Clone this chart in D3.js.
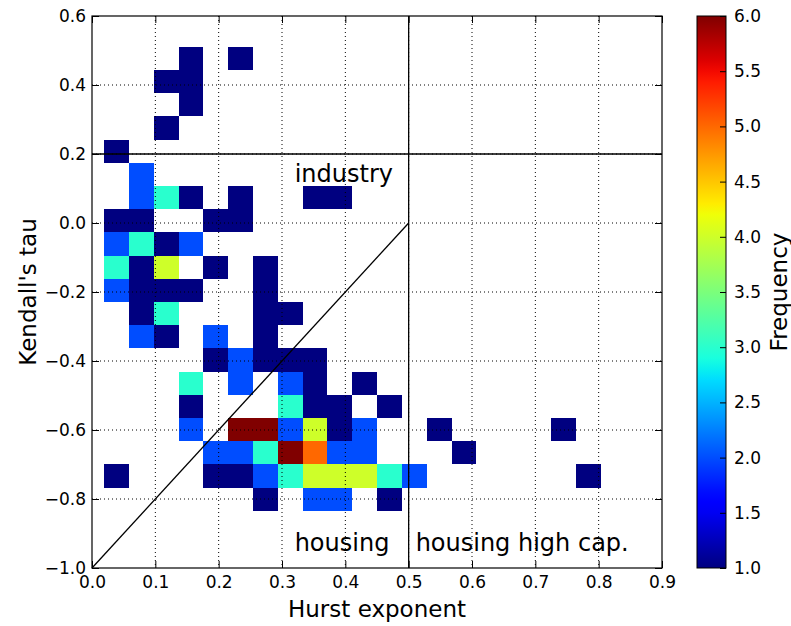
<!DOCTYPE html>
<html>
<head>
<meta charset="utf-8">
<script src="https://cdn.jsdelivr.net/npm/d3@7"></script>
<style>
body { margin: 0; background: #fff; }
text { font-family: "DejaVu Sans", sans-serif; fill: #000; }
</style>
</head>
<body>
<svg id="chart" width="791" height="626"></svg>
<script>
// bin range of the 2d histogram (20 x 20 bins)
var hurstRange = [0.019, 0.803];
var tauRange = [-0.834, 0.511];
var nBins = 20;

// counts per bin, first row = highest tau, first column = lowest hurst
var counts = [
    [0,0,0,1,0,1,0,0,0,0,0,0,0,0,0,0,0,0,0,0],
    [0,0,1,1,0,0,0,0,0,0,0,0,0,0,0,0,0,0,0,0],
    [0,0,0,1,0,0,0,0,0,0,0,0,0,0,0,0,0,0,0,0],
    [0,0,1,0,0,0,0,0,0,0,0,0,0,0,0,0,0,0,0,0],
    [1,0,0,0,0,0,0,0,0,0,0,0,0,0,0,0,0,0,0,0],
    [0,2,0,0,0,0,0,0,0,0,0,0,0,0,0,0,0,0,0,0],
    [0,2,3,1,0,1,0,0,1,1,0,0,0,0,0,0,0,0,0,0],
    [1,1,0,0,1,1,0,0,0,0,0,0,0,0,0,0,0,0,0,0],
    [2,3,1,2,0,0,0,0,0,0,0,0,0,0,0,0,0,0,0,0],
    [3,1,4,0,1,0,1,0,0,0,0,0,0,0,0,0,0,0,0,0],
    [2,1,1,1,0,0,1,0,0,0,0,0,0,0,0,0,0,0,0,0],
    [0,1,3,0,0,0,1,1,0,0,0,0,0,0,0,0,0,0,0,0],
    [0,2,1,0,2,0,1,0,0,0,0,0,0,0,0,0,0,0,0,0],
    [0,0,0,0,1,2,1,1,1,0,0,0,0,0,0,0,0,0,0,0],
    [0,0,0,3,0,2,0,2,1,0,1,0,0,0,0,0,0,0,0,0],
    [0,0,0,1,0,0,0,3,1,1,0,1,0,0,0,0,0,0,0,0],
    [0,0,0,2,0,6,6,2,4,1,2,0,0,1,0,0,0,0,1,0],
    [0,0,0,0,2,2,3,6,5,2,2,0,0,0,1,0,0,0,0,0],
    [1,0,0,0,1,1,2,3,4,4,4,3,2,0,0,0,0,0,0,1],
    [0,0,0,0,0,0,1,0,2,2,0,1,0,0,0,0,0,0,0,0]
];

var xTicks = [0, 0.1, 0.2, 0.3, 0.4, 0.5, 0.6, 0.7, 0.8, 0.9];
var yTicks = [-1.0, -0.8, -0.6, -0.4, -0.2, 0.0, 0.2, 0.4, 0.6];
var cbTicks = [1.0, 1.5, 2.0, 2.5, 3.0, 3.5, 4.0, 4.5, 5.0, 5.5, 6.0];

// separator lines [x1, y1, x2, y2] in data units
var guides = [
    [0, -1, 0.5, 0],
    [0, 0.2, 0.9, 0.2],
    [0.5, -1, 0.5, 0.6]
];
var regionLabels = [
    {text: "industry", x: 0.32, y: 0.12},
    {text: "housing", x: 0.32, y: -0.952},
    {text: "housing high cap.", x: 0.511, y: -0.952}
];

var margin = {left: 92, top: 16, right: 129, bottom: 58};
var width = 791 - margin.left - margin.right,
    height = 626 - margin.top - margin.bottom;

var svg = d3.select("#chart");
var g = svg.append("g")
    .attr("transform", "translate(" + margin.left + "," + margin.top + ")");

var x = d3.scaleLinear().domain([0, 0.9]).range([0, width]);
var y = d3.scaleLinear().domain([-1, 0.6]).range([height, 0]);

// matplotlib jet
var jetR = d3.scaleLinear().domain([0, 0.35, 0.66, 0.89, 1]).range([0, 0, 1, 1, 0.5]).clamp(true);
var jetG = d3.scaleLinear().domain([0, 0.125, 0.375, 0.64, 0.91, 1]).range([0, 0, 1, 1, 0, 0]).clamp(true);
var jetB = d3.scaleLinear().domain([0, 0.11, 0.34, 0.65, 1]).range([0.5, 1, 1, 0, 0]).clamp(true);
function jet(t) {
    return d3.rgb(jetR(t) * 255, jetG(t) * 255, jetB(t) * 255).toString();
}
var norm = d3.scaleLinear().domain([1, 6]).range([0, 1]).clamp(true);

var xEdge = d3.scaleLinear().domain([0, nBins]).range(hurstRange);
var yEdge = d3.scaleLinear().domain([0, nBins]).range([tauRange[1], tauRange[0]]);

var cells = [];
counts.forEach(function(row, r) {
    row.forEach(function(v, c) {
        if (v > 0) cells.push({r: r, c: c, v: v});
    });
});

g.selectAll(".cell")
    .data(cells)
    .enter()
    .append("rect")
    .attr("class", "cell")
    .attr("shape-rendering", "crispEdges")
    .attr("x", function(d) { return x(xEdge(d.c)); })
    .attr("width", function(d) { return x(xEdge(d.c + 1)) - x(xEdge(d.c)); })
    .attr("y", function(d) { return y(yEdge(d.r)); })
    .attr("height", function(d) { return y(yEdge(d.r + 1)) - y(yEdge(d.r)); })
    .attr("fill", function(d) { return jet(norm(d.v)); });

// dotted grid
g.selectAll(".gx")
    .data(xTicks.slice(1, -1))
    .enter()
    .append("line")
    .attr("x1", function(d) { return x(d); })
    .attr("x2", function(d) { return x(d); })
    .attr("y1", 0).attr("y2", height)
    .attr("stroke", "#000").attr("stroke-width", 1)
    .attr("stroke-dasharray", "1,3");

g.selectAll(".gy")
    .data(yTicks.slice(1, -1))
    .enter()
    .append("line")
    .attr("y1", function(d) { return y(d); })
    .attr("y2", function(d) { return y(d); })
    .attr("x1", 0).attr("x2", width)
    .attr("stroke", "#000").attr("stroke-width", 1)
    .attr("stroke-dasharray", "1,3");

g.selectAll(".guide")
    .data(guides)
    .enter()
    .append("line")
    .attr("x1", function(d) { return x(d[0]); })
    .attr("y1", function(d) { return y(d[1]); })
    .attr("x2", function(d) { return x(d[2]); })
    .attr("y2", function(d) { return y(d[3]); })
    .attr("stroke", "#000")
    .attr("stroke-width", 1.3);

g.selectAll(".region")
    .data(regionLabels)
    .enter()
    .append("text")
    .attr("x", function(d) { return x(d.x); })
    .attr("y", function(d) { return y(d.y); })
    .style("font-size", "24px")
    .text(function(d) { return d.text; });

// axes, ticks pointing inwards on all sides
var fmt = d3.format(".1f");
var tickLen = 7;

g.append("g")
    .attr("transform", "translate(0," + height + ")")
    .call(d3.axisBottom(x).tickValues(xTicks).tickFormat(fmt).tickSize(-tickLen).tickSizeOuter(0).tickPadding(8))
    .call(styleAxis);

g.append("g")
    .call(d3.axisLeft(y).tickValues(yTicks).tickFormat(fmt).tickSize(-tickLen).tickSizeOuter(0).tickPadding(6))
    .call(styleAxis);

g.append("g")
    .call(d3.axisTop(x).tickValues(xTicks).tickFormat("").tickSize(-tickLen).tickSizeOuter(0))
    .call(styleAxis);

g.append("g")
    .attr("transform", "translate(" + width + ",0)")
    .call(d3.axisRight(y).tickValues(yTicks).tickFormat("").tickSize(-tickLen).tickSizeOuter(0))
    .call(styleAxis);

function styleAxis(sel) {
    sel.select(".domain").remove();
    sel.selectAll("line").attr("stroke", "#000");
    sel.selectAll("text")
        .attr("fill", "#000")
        .style("font-family", "DejaVu Sans, sans-serif")
        .style("font-size", "17px");
}

g.append("rect")
    .attr("width", width)
    .attr("height", height)
    .attr("fill", "none")
    .attr("stroke", "#000")
    .attr("stroke-width", 1.2);

svg.append("text")
    .attr("x", margin.left + width / 2)
    .attr("y", 617)
    .attr("text-anchor", "middle")
    .style("font-size", "23px")
    .text("Hurst exponent");

svg.append("text")
    .attr("transform", "translate(36," + (margin.top + height / 2) + ") rotate(-90)")
    .attr("text-anchor", "middle")
    .style("font-size", "23px")
    .text("Kendall's tau");

// colorbar
var cbX = 697, cbW = 29;
var cb = d3.scaleLinear().domain([1, 6]).range([margin.top + height, margin.top]);

var grad = svg.append("defs")
    .append("linearGradient")
    .attr("id", "jetgrad")
    .attr("x1", 0).attr("y1", 1)
    .attr("x2", 0).attr("y2", 0);

grad.selectAll("stop")
    .data(d3.range(0, 1.0001, 0.02))
    .enter()
    .append("stop")
    .attr("offset", function(d) { return d; })
    .attr("stop-color", function(d) { return jet(d); });

svg.append("rect")
    .attr("x", cbX)
    .attr("y", margin.top)
    .attr("width", cbW)
    .attr("height", height)
    .attr("fill", "url(#jetgrad)");

svg.append("g")
    .attr("transform", "translate(" + (cbX + cbW) + ",0)")
    .call(d3.axisRight(cb).tickValues(cbTicks).tickFormat(fmt).tickSize(-6).tickSizeOuter(0).tickPadding(8))
    .call(styleAxis);

svg.append("rect")
    .attr("x", cbX)
    .attr("y", margin.top)
    .attr("width", cbW)
    .attr("height", height)
    .attr("fill", "none")
    .attr("stroke", "#000")
    .attr("stroke-width", 1);

svg.append("text")
    .attr("transform", "translate(787," + (margin.top + height / 2) + ") rotate(-90)")
    .attr("text-anchor", "middle")
    .style("font-size", "23px")
    .text("Frequency");
</script>
</body>
</html>
